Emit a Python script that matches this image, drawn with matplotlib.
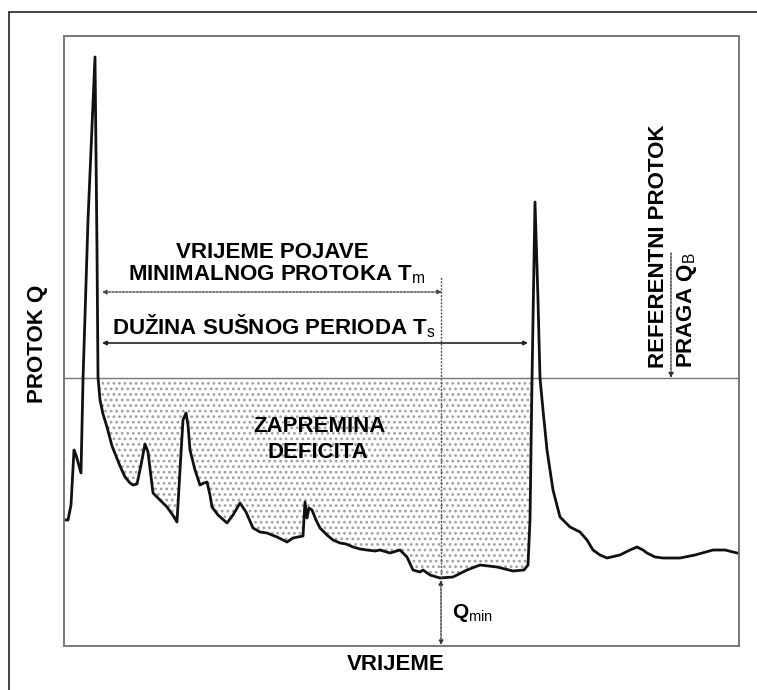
import matplotlib
matplotlib.use("Agg")
import matplotlib.pyplot as plt
import numpy as np
from matplotlib.patches import Rectangle

plt.rcParams["font.family"] = ["Liberation Sans", "DejaVu Sans"]
plt.rcParams["mathtext.fontset"] = "custom"
plt.rcParams["mathtext.rm"] = "Liberation Sans"
plt.rcParams["hatch.linewidth"] = 1.2

# hydrograph: time index vs flow (arbitrary units)
time = [0, 4, 7, 10, 12, 17, 19, 24, 31, 33, 34, 36, 39, 43, 48, 56, 61, 66, 69, 73,
        77, 81, 84, 89, 96, 103, 108, 113, 116, 119, 122, 124, 126, 131, 136, 140,
        143, 146, 148, 154, 163, 169, 176, 182, 189, 196, 203, 213, 223, 229, 239,
        241, 243, 245, 248, 252, 256, 263, 269, 276, 282, 289, 296, 303, 311, 316,
        326, 336, 343, 349, 356, 359, 366, 376, 389, 403, 416, 433, 449, 460, 464,
        466, 468, 471, 474, 476, 479, 483, 489, 496, 506, 516, 523, 529, 536, 543,
        556, 566, 573, 579, 583, 591, 599, 616, 631, 649, 661, 673, 675]
flow = [126, 126, 141, 196, 191, 173, 266, 426, 589, 396, 269, 246, 232, 219, 200,
        180, 169, 163, 161, 162, 181, 202, 194, 153, 146, 139, 132, 124, 176, 226,
        233, 221, 196, 176, 161, 163, 164, 151, 139, 131, 123, 131, 143, 134, 118,
        114, 113, 109, 104, 108, 110, 144, 128, 138, 136, 126, 118, 111, 106, 103,
        102, 99, 97, 96, 95, 96, 93, 96, 89, 76, 74, 76, 71, 68, 69, 76, 81, 79,
        75, 76, 81, 126, 266, 444, 346, 268, 236, 196, 156, 129, 119, 114, 106, 96,
        91, 88, 91, 96, 99, 96, 93, 89, 88, 88, 91, 96, 96, 93, 93]

q_b = 268            # threshold (reference flow)
drought_start = 34   # where the recession crosses Q_B
drought_end = 466    # where the next flood rises through Q_B
t_min = 377          # time of minimum flow
q_min = 68
ref_arrow_top = 393

time = np.array(time, dtype=float)
flow = np.array(flow, dtype=float)

fig = plt.figure(figsize=(7.57, 6.90), dpi=100)

# outer frame of the scanned page, cut at right and bottom
fig.add_artist(Rectangle((9 / 757, -0.1), 1.2, 1 - 12 / 690 + 0.1,
                         transform=fig.transFigure, fill=False,
                         edgecolor="#222222", linewidth=1.2))

ax = fig.add_axes([64 / 757, 44 / 690, 675 / 757, 610 / 690])
ax.set_xlim(0, 675)
ax.set_ylim(0, 610)
ax.set_xticks([])
ax.set_yticks([])
for side in ax.spines.values():
    side.set_color("#777777")
    side.set_linewidth(1.4)

# deficit volume, dotted shading between threshold and hydrograph
in_drought = (time >= drought_start) & (time <= drought_end)
ax.fill_between(time, flow, q_b, where=in_drought & (flow <= q_b + 1),
                interpolate=True, facecolor="white", edgecolor="#a0a0a0",
                hatch="...", linewidth=0)

ax.axhline(q_b, color="#777777", linewidth=1.0)
ax.plot(time, flow, color="#111111", linewidth=2.0, solid_joinstyle="round")

# T_m and T_s arrows
ax.annotate("", xy=(38, 354), xytext=(t_min + 1, 354),
            arrowprops=dict(arrowstyle="<|-|>", color="#444444", lw=1.0,
                            linestyle=(0, (1.5, 1)), mutation_scale=6,
                            shrinkA=0, shrinkB=0))
ax.annotate("", xy=(38, 303), xytext=(drought_end - 2, 303),
            arrowprops=dict(arrowstyle="<|-|>", color="#222222", lw=1.2,
                            mutation_scale=6, shrinkA=0, shrinkB=0))

# vertical line through time of minimum and Q_min arrow
ax.plot([t_min, t_min], [q_min, 369], color="#555555", linewidth=1.0,
        linestyle=(0, (1.5, 1)))
ax.annotate("", xy=(t_min, 1), xytext=(t_min, q_min - 2),
            arrowprops=dict(arrowstyle="<|-|>", color="#333333", lw=1.0,
                            linestyle=(0, (1.5, 1)), mutation_scale=6,
                            shrinkA=0, shrinkB=0))

# arrow of the reference threshold
ax.annotate("", xy=(607, q_b), xytext=(607, ref_arrow_top),
            arrowprops=dict(arrowstyle="-|>", color="#333333", lw=1.0,
                            linestyle=(0, (1.5, 1)), mutation_scale=7,
                            shrinkA=0, shrinkB=0))

fs = 16
ax.text(208, 394, "VRIJEME POJAVE", ha="center", va="center",
        fontsize=fs, fontweight="bold")
ax.text(213, 371, r"MINIMALNOG PROTOKA T$_{\mathrm{m}}$", ha="center",
        va="center", fontsize=fs, fontweight="bold")
ax.text(210, 320, r"DUŽINA SUŠNOG PERIODA T$_{\mathrm{s}}$", ha="center",
        va="center", fontsize=fs, fontweight="bold")
ax.text(256, 219, "ZAPREMINA", ha="center", va="center",
        fontsize=fs, fontweight="bold")
ax.text(254, 194, "DEFICITA", ha="center", va="center",
        fontsize=fs, fontweight="bold")
ax.text(388, 33, r"Q$_{\mathrm{min}}$", ha="left", va="center",
        fontsize=fs - 1, fontweight="bold")
ax.text(600, 278, "REFERENTNI PROTOK", rotation=90, rotation_mode="anchor",
        ha="left", va="baseline", fontsize=fs, fontweight="bold")
ax.text(628, 278, r"PRAGA Q$_{\mathrm{B}}$", rotation=90,
        rotation_mode="anchor", ha="left", va="baseline", fontsize=fs,
        fontweight="bold")
ax.text(-26, 302, "PROTOK Q", rotation=90, ha="center", va="center",
        fontsize=fs, fontweight="bold")
ax.text(332, -19, "VRIJEME", ha="center", va="center",
        fontsize=fs, fontweight="bold")

fig.savefig("out.png", dpi=100)
